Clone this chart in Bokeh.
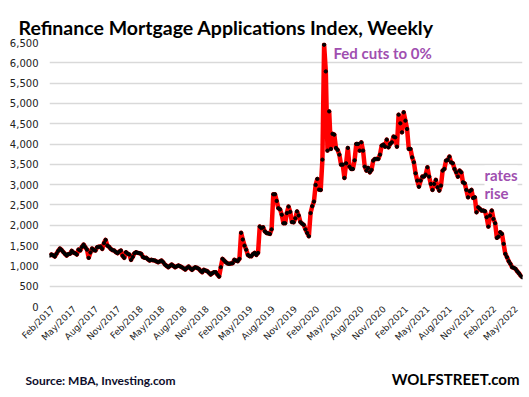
import math
import pandas as pd
from bokeh.plotting import figure
from bokeh.models import (FixedTicker, DatetimeTickFormatter, NumeralTickFormatter,
                          Label, Range1d, ColumnDataSource, Title)
from bokeh.embed import file_html
from bokeh.resources import INLINE

# Weekly refinance index values (first week: 2017-01-18)
refi_2017 = [1255, 1280, 1260, 1230, 1300, 1370, 1427, 1390, 1340, 1296,
             1255, 1290, 1300, 1370, 1328, 1310, 1280, 1402, 1380, 1470,
             1525, 1460, 1400, 1198, 1330, 1427, 1390, 1378, 1460, 1470,
             1476, 1419, 1560, 1640, 1500, 1470, 1419, 1390, 1378, 1340,
             1312, 1350, 1378, 1250, 1198, 1336, 1300, 1280, 1149, 1220,
             1310]
refi_2018 = [1336, 1320, 1312, 1296, 1220, 1198, 1198, 1160, 1132,
             1149, 1140, 1132, 1110, 1090, 1110, 1132, 1090, 1033, 1000,
             967, 1000, 1033, 1000, 967, 990, 1009, 990, 967, 940,
             910, 950, 984, 940, 902, 940, 967, 950, 927, 880,
             845, 902, 885, 869, 830, 787, 820, 845, 845, 787,
             738, 967, 1173]
refi_2019 = [1130, 1090, 1060, 1050, 1060, 1066, 1149,
             1130, 1116, 1173, 1813, 1650, 1500, 1400, 1270, 1238, 1238,
             1290, 1320, 1270, 1320, 1968, 1930, 1950, 1850, 1810, 1800,
             1788, 1900, 2763, 2763, 2600, 2420, 2390, 2260, 2050, 2050,
             2300, 2460, 2330, 2080, 2074, 2172, 2340, 2240, 2080, 2040,
             2010, 1900, 1810, 1730, 2300]
refi_2020 = [2470, 2583, 2993, 3141, 2878,
             2870, 3616, 6445, 5788, 3838, 4804, 3880, 4250, 4231, 3904,
             3855, 3739, 3493, 3493, 3166, 3526, 3904, 3444, 3387, 3387,
             3600, 4002, 4002, 3838, 4042, 3838, 3444, 3346, 3411, 3304,
             3362, 3592, 3633, 3633, 3633, 3739, 3961, 3985, 3936, 4108,
             3919, 4002, 4042, 4182, 4165, 3936, 4723]
refi_2021 = [4510, 4288, 4780,
             4576, 4371, 3880, 3880, 3673, 3550, 3280, 3100, 2950, 3100,
             3198, 3198, 3247, 3427, 3198, 3018, 2870, 3018, 3116, 2936,
             2854, 2977, 3346, 3387, 3592, 3608, 3690, 3550, 3526, 3387,
             3304, 3198, 3346, 3304, 3058, 3033, 2870, 2689, 2837, 2870,
             2673, 2689, 2320, 2443, 2403, 2362, 2362, 2345, 2197]
refi_2022 = [1968, 2239, 2362, 2157, 2050, 1690, 1722, 1828, 1788, 1542,
             1296, 1213, 1115, 1050, 967, 951, 927, 869, 820, 763, 720]

values = refi_2017 + refi_2018 + refi_2019 + refi_2020 + refi_2021 + refi_2022
dates = pd.date_range("2017-01-18", periods=len(values), freq="7D")

tick_years = [2017, 2018, 2019, 2020, 2021, 2022]
tick_months = [2, 5, 8, 11]
y_ticks = list(range(0, 6501, 500))

title_text = "Refinance Mortgage Applications Index, Weekly"
source_text = "Source: MBA, Investing.com"
brand_text = "WOLFSTREET.com"
note_fed = "Fed cuts to 0%"
note_rates = "rates\nrise"

tick_dates = [pd.Timestamp(year=y, month=m, day=1) for y in tick_years for m in tick_months
              if pd.Timestamp(year=y, month=m, day=1) <= dates[-1]]
tick_ms = [t.value / 1e6 for t in tick_dates]

src = ColumnDataSource(dict(x=dates, y=values))

p = figure(width=529, height=397, output_backend="svg", toolbar_location=None,
           x_axis_type="datetime",
           x_range=Range1d(dates[0] - pd.Timedelta(days=1), dates[-1] + pd.Timedelta(days=1)),
           y_range=Range1d(0, 6500),
           min_border_left=49, min_border_right=7, min_border_top=42, min_border_bottom=91)
p.outline_line_color = None
p.background_fill_color = "white"
p.border_fill_color = "white"

p.title.text = title_text
p.title.align = "left"
p.title.offset = -31
p.title.standoff = 8
p.title.text_font = "Lato"
p.title.text_font_style = "bold"
p.title.text_font_size = "19.5px"
p.title.text_color = "#000000"

p.xgrid.visible = False
p.ygrid.grid_line_color = "#D9D9D9"
p.ygrid.grid_line_width = 1.3
p.yaxis.ticker = FixedTicker(ticks=y_ticks)
p.yaxis.formatter = NumeralTickFormatter(format="0,0")
p.yaxis.axis_line_color = None
p.yaxis.major_tick_line_color = None
p.yaxis.minor_tick_line_color = None
p.yaxis.major_tick_out = 0
p.yaxis.major_label_standoff = 11
p.yaxis.major_label_text_font = "DejaVu Sans"
p.yaxis.major_label_text_font_size = "10px"
p.yaxis.major_label_text_color = "#222222"

p.xaxis.ticker = FixedTicker(ticks=tick_ms)
fmt = "%b/%Y"
p.xaxis.formatter = DatetimeTickFormatter(days=fmt, months=fmt, years=fmt, hours=fmt,
                                          hourmin=fmt, minutes=fmt, minsec=fmt, seconds=fmt,
                                          milliseconds=fmt, microseconds=fmt)
p.xaxis.major_label_orientation = math.pi / 4
p.xaxis.axis_line_color = None
p.xaxis.major_tick_line_color = None
p.xaxis.minor_tick_line_color = None
p.xaxis.major_tick_out = 0
p.xaxis.major_label_standoff = 1
p.xaxis.major_label_text_font = "DejaVu Sans"
p.xaxis.major_label_text_font_size = "9px"
p.xaxis.major_label_text_color = "#222222"

p.line("x", "y", source=src, line_color="#FF0000", line_width=4.5, line_join="round")
p.scatter("x", "y", source=src, size=3.3, color="black")

p.add_layout(Label(x=284, y=254, x_units="screen", y_units="screen", text=note_fed,
                   text_font="Lato", text_font_style="bold", text_font_size="15px",
                   text_color="#A04FB0", text_baseline="alphabetic"))
p.add_layout(Label(x=435, y=123, x_units="screen", y_units="screen", text=note_rates,
                   text_font="Lato", text_font_style="bold", text_font_size="15px",
                   text_color="#A04FB0", text_baseline="alphabetic", text_line_height=1.0,
                   background_fill_color="white"))

src_title = Title(text=source_text, align="left", offset=-24, vertical_align="bottom",
                  standoff=-76, text_font="Lato", text_font_style="bold",
                  text_font_size="12px", text_color="#0D0D2B")
p.add_layout(src_title, "below")
brand_title = Title(text=brand_text, align="right", offset=3, vertical_align="bottom",
                    standoff=-76, text_font="Lato", text_font_style="bold",
                    text_font_size="15px", text_color="#000000")
p.add_layout(brand_title, "below")

open("out.html", "w").write(file_html(p, INLINE))
